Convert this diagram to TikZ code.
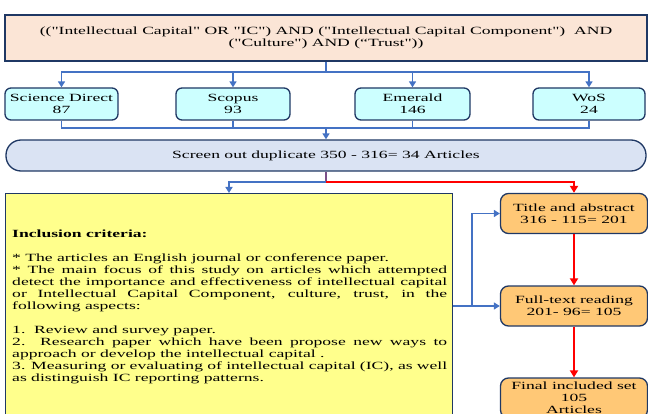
\documentclass[tikz,border=0pt]{standalone}
\usepackage{fontspec}
\setmainfont{Liberation Serif}[FakeStretch=1.6,Ligatures=TeXOff]
\usetikzlibrary{arrows.meta}
\definecolor{navy}{HTML}{1F3864}
\definecolor{peach}{HTML}{FBE5D6}
\definecolor{cyanl}{HTML}{CCFFFF}
\definecolor{lav}{HTML}{DAE3F3}
\definecolor{yel}{HTML}{FFFF8C}
\definecolor{orng}{HTML}{FFC876}
\definecolor{blu}{HTML}{4472C4}
\definecolor{rd}{HTML}{FF0000}
\begin{document}
\begin{tikzpicture}[x=1pt,y=-1pt,font=\fontsize{11}{12}\selectfont,
  box/.style={draw=navy,line width=1.3pt,inner sep=0pt,align=center},
  dbbox/.style={box,fill=cyanl,rounded corners=6pt,minimum height=32pt},
  orbox/.style={box,fill=orng,rounded corners=8pt,minimum width=147pt,minimum height=40pt},
  blink/.style={draw=blu,line width=1.6pt},
  barrow/.style={blink,-{Triangle[width=7pt,length=6pt]}},
  rarrow/.style={draw=rd,line width=2pt,-{Triangle[width=8pt,length=7pt]}}]
\useasboundingbox (0,0) rectangle (648,414);
\node[box,fill=peach,minimum width=642pt,minimum height=46pt] (q) at (326,38)
  {(("Intellectual Capital" OR "IC") AND ("Intellectual Capital Component")\ \ AND\\("Culture") AND (“Trust"))};
\node[dbbox,minimum width=113pt] (sd) at (61.5,104) {Science Direct\\87};
\node[dbbox,minimum width=114pt] (sc) at (233,104) {Scopus\\93};
\node[dbbox,minimum width=115pt] (em) at (412.5,104) {Emerald\\146};
\node[dbbox,minimum width=112pt] (ws) at (589,104) {WoS\\24};
\coordinate (jt) at (326,72);
\coordinate (jb) at (326,128);
\draw[blink] (q.south) -- (jt);
\foreach \n in {sd,sc,em,ws}{
  \draw[barrow] (jt) -| (\n.north);
  \draw[blink] (\n.south) |- (jb);
}
\node[box,fill=lav,rounded corners=15pt,minimum width=640pt,minimum height=31pt] (scr) at (326,155.5)
  {Screen out duplicate 350 - 316= 34 Articles};
\draw[barrow] (jb) -- (scr.north);
\node[box,fill=yel,line width=1pt,minimum width=447pt,minimum height=240pt,anchor=north west] (inc) at (5,193) {};
\node[anchor=north west,text width=435pt,align=justify,inner sep=0pt] (inctext) at (12,229.5) {%
\textbf{Inclusion criteria:}\par\vspace{12pt}
* The articles an English journal or conference paper.\par
* The main focus of this study on articles which attempted\linebreak
detect the importance and effectiveness of intellectual capital\linebreak
or Intellectual Capital Component, culture, trust, in the\linebreak
following aspects:\par\vspace{12pt}
1.\ \ Review and survey paper.\par
2. Research paper which have been propose new ways to\linebreak
approach or develop the intellectual capital .\par
3. Measuring or evaluating of intellectual capital (IC), as well\linebreak
as distinguish IC reporting patterns.\par};
\node[orbox] (ta) at (574,213.5) {Title and abstract\\316 - 115= 201};
\node[orbox] (fr) at (574,306) {Full-text reading\\201- 96= 105};
\node[orbox] (fin) at (574,398) {Final included set\\105\\Articles};
\coordinate (js) at (326,182);
\draw[blink,draw=blu!70!rd] (scr.south) -- (js);
\draw[barrow] (js) -| (inc.north);
\draw[rarrow] (js) -| (ta.north);
\coordinate (jv) at (472,306);
\draw[barrow] (inc.east |- fr.west) -- (fr.west);
\draw[barrow] (jv) |- (ta.west);
\draw[rarrow] (ta) -- (fr);
\draw[rarrow] (fr) -- (fin);
\end{tikzpicture}
\end{document}
